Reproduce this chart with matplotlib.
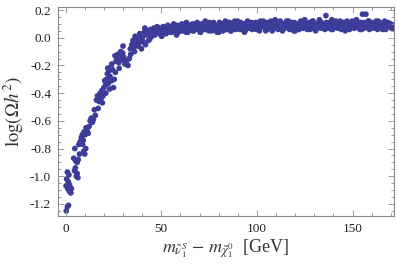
import matplotlib
matplotlib.use('Agg')
import matplotlib.pyplot as plt
from matplotlib.ticker import MultipleLocator

# steep part of the scan (mass splitting in GeV, log of relic density)
rise_x = [0.3, 0.9, 1.5, 0.2, 0.5, 0.9, 1.1, 1.4, 1.7, 2.0,
          2.4, 2.7, 1.9, 3.0, 4.6, 5.1, 5.6, 6.0, 6.4, 4.2,
          4.8, 5.3, 6.0, 6.6, 7.2, 6.9, 7.6, 8.2, 8.7, 9.2,
          9.6, 10.2, 10.7, 11.2, 11.8, 12.3, 9.4, 10.0, 10.5, 8.9,
          12.8, 13.4, 14.0, 14.5, 15.0, 15.5, 16.1, 16.6, 17.0, 17.5,
          18.0, 18.5, 19.0, 19.5, 20.0, 20.4, 20.9, 21.4, 21.8, 22.3,
          22.7, 23.2, 23.6, 24.1, 24.5, 25.0, 25.4, 25.8, 26.3, 26.8,
          27.3, 27.8, 28.3, 28.8, 29.3, 29.8, 30.4, 31.0, 31.8, 32.6,
          33.3, 34.0, 21.0, 23.0, 24.0, 19.2, 22.0, 26.0, 28.0, 30.0,
          34.6, 35.2, 35.8, 36.3, 36.9, 37.4, 38.0, 38.5, 39.0, 39.6,
          40.1, 40.6, 41.1, 41.7, 42.2, 42.8, 43.3, 43.9, 44.4, 45.0,
          45.6, 46.1, 46.7, 47.3, 47.8, 36.0, 38.8, 41.4, 44.0, 33.8]
rise_y = [-1.25, -1.22, -1.21, -1.07, -1.02, -0.97, -1.09, -1.04, -0.99, -1.11,
          -1.08, -1.12, -1.06, -1.09, -0.96, -0.94, -1.00, -0.98, -1.01, -0.87,
          -0.80, -0.89, -0.90, -0.88, -0.84, -0.77, -0.75, -0.72, -0.70, -0.74,
          -0.68, -0.70, -0.65, -0.67, -0.69, -0.64, -0.82, -0.84, -0.80, -0.77,
          -0.60, -0.58, -0.61, -0.59, -0.52, -0.56, -0.45, -0.42, -0.51, -0.46,
          -0.40, -0.44, -0.38, -0.42, -0.36, -0.31, -0.34, -0.30, -0.26, -0.33,
          -0.24, -0.28, -0.21, -0.19, -0.23, -0.36, -0.30, -0.13, -0.17, -0.15,
          -0.12, -0.18, -0.14, -0.10, -0.16, -0.11, -0.14, -0.19, -0.17, -0.20,
          -0.15, -0.12, -0.40, -0.37, -0.31, -0.47, -0.22, -0.25, -0.22, -0.06,
          -0.05, -0.02, -0.07, 0.01, -0.04, -0.01, -0.06, 0.02, -0.03, -0.08,
          0.00, -0.03, 0.04, -0.05, 0.02, 0.05, -0.02, 0.03, 0.06, 0.01,
          0.04, 0.07, 0.02, 0.05, 0.08, -0.10, 0.03, 0.07, -0.01, -0.08]

# flat part of the scan
flat_x = [48.5, 49.2, 49.8, 50.5, 51.0, 51.7, 52.3, 52.9, 53.4, 54.1,
          54.8, 55.2, 55.9, 56.5, 57.0, 57.8, 58.3, 58.9, 59.6, 60.1,
          60.8, 61.4, 62.0, 62.7, 63.2, 63.9, 64.5, 65.0, 65.8, 66.3,
          66.9, 67.5, 68.2, 68.8, 69.3, 70.0, 70.6, 71.1, 71.9, 72.4,
          73.0, 73.7, 74.2, 74.9, 75.5, 76.0, 76.8, 77.3, 77.9, 78.6,
          79.1, 79.8, 80.4, 80.9, 81.6, 82.2, 82.8, 83.5, 84.0, 84.7,
          85.3, 85.8, 86.6, 87.1, 87.7, 88.4, 88.9, 89.6, 90.2, 90.7,
          91.5, 92.0, 92.6, 93.3, 93.8, 94.5, 95.1, 95.6, 96.4, 96.9,
          97.5, 98.2, 98.7, 99.4, 100.0, 100.5, 101.3, 101.8, 102.4, 103.1,
          103.6, 104.3, 104.9, 105.4, 106.2, 106.7, 107.3, 108.0, 108.5, 109.2,
          109.8, 110.3, 111.1, 111.6, 112.2, 112.9, 113.4, 114.1, 114.7, 115.2,
          116.0, 116.5, 117.1, 117.8, 118.3, 119.0, 119.6, 120.1, 120.9, 121.4,
          122.0, 122.7, 123.2, 123.9, 124.5, 125.0, 125.8, 126.3, 126.9, 127.6,
          128.1, 128.8, 129.4, 129.9, 130.7, 131.2, 131.8, 132.5, 133.0, 133.7,
          134.3, 134.8, 135.6, 136.1, 136.7, 137.4, 137.9, 138.6, 139.2, 139.7,
          140.5, 141.0, 141.6, 142.3, 142.8, 143.5, 144.1, 144.6, 145.4, 145.9,
          146.5, 147.2, 147.7, 148.4, 149.0, 149.5, 150.3, 150.8, 151.4, 152.1,
          152.6, 153.3, 153.9, 154.4, 155.2, 155.7, 156.3, 157.0, 157.5, 158.2,
          158.8, 159.3, 160.1, 160.6, 161.2, 161.9, 162.4, 163.1, 163.7, 164.2,
          165.0, 165.5, 166.1, 166.8, 167.3, 168.0, 168.6, 169.1, 169.9, 170.4,
          171.0, 171.6]
flat_y = [0.04, 0.07, 0.02, 0.06, 0.08, 0.03, 0.07, 0.05, 0.09, 0.06,
          0.04, 0.08, 0.06, 0.10, 0.05, 0.07, 0.09, 0.04, 0.08, 0.06,
          0.10, 0.05, 0.08, 0.07, 0.11, 0.04, 0.09, 0.06, 0.08, 0.10,
          0.05, 0.07, 0.09, 0.11, 0.06, 0.08, 0.04, 0.10, 0.07, 0.09,
          0.12, 0.06, 0.08, 0.05, 0.10, 0.07, 0.09, 0.11, 0.06, 0.08,
          0.04, 0.09, 0.11, 0.07, 0.10, 0.05, 0.08, 0.12, 0.06, 0.09,
          0.07, 0.11, 0.05, 0.09, 0.08, 0.12, 0.06, 0.10, 0.07, 0.09,
          0.11, 0.06, 0.08, 0.10, 0.05, 0.09, 0.12, 0.07, 0.10, 0.08,
          0.06, 0.10, 0.08, 0.11, 0.07, 0.09, 0.05, 0.12, 0.08, 0.10,
          0.09, 0.07, 0.11, 0.06, 0.10, 0.08, 0.12, 0.05, 0.09, 0.11,
          0.07, 0.10, 0.06, 0.09, 0.12, 0.08, 0.05, 0.10, 0.07, 0.11,
          0.08, 0.12, 0.06, 0.10, 0.09, 0.07, 0.11, 0.05, 0.08, 0.10,
          0.06, 0.09, 0.11, 0.07, 0.10, 0.13, 0.08, 0.06, 0.09, 0.11,
          0.10, 0.07, 0.12, 0.08, 0.05, 0.10, 0.09, 0.08, 0.07, 0.11,
          0.08, 0.10, 0.06, 0.16, 0.09, 0.07, 0.11, 0.08, 0.13, 0.06,
          0.10, 0.08, 0.11, 0.07, 0.09, 0.12, 0.06, 0.10, 0.08, 0.11,
          0.07, 0.12, 0.09, 0.06, 0.10, 0.08, 0.11, 0.07, 0.09, 0.13,
          0.08, 0.10, 0.06, 0.11, 0.17, 0.09, 0.07, 0.17, 0.08, 0.12,
          0.06, 0.09, 0.11, 0.07, 0.10, 0.08, 0.12, 0.06, 0.09, 0.11,
          0.07, 0.10, 0.08, 0.12, 0.06, 0.09, 0.11, 0.08, 0.10, 0.07,
          0.09, 0.07]

flat2_x = [50.2, 51.4, 52.6, 53.8, 55.5, 56.8, 58.0, 59.2, 60.5, 61.8,
           63.0, 64.2, 65.4, 66.6, 68.0, 69.0, 70.3, 71.5, 72.8, 74.0,
           75.2, 76.4, 77.6, 78.9, 80.1, 81.3, 82.5, 83.8, 85.0, 86.2,
           87.4, 88.6, 89.9, 91.1, 92.3, 93.5, 94.8, 96.0, 97.2, 98.4,
           99.7, 100.9, 102.1, 103.3, 104.6, 105.8, 107.0, 108.2, 109.5, 110.7,
           111.9, 113.1, 114.4, 115.6, 116.8, 118.0, 119.3, 120.5, 121.7, 122.9,
           124.2, 125.4, 126.6, 127.8, 129.1, 130.3, 131.5, 132.7, 134.0, 135.2,
           136.4, 137.6, 138.9, 140.1, 141.3, 142.5, 143.8, 145.0, 146.2, 147.4,
           148.7, 149.9, 151.1, 152.3, 153.6, 154.8, 156.0, 157.2, 158.5, 159.7,
           160.9, 162.1, 163.4, 164.6, 165.8, 167.0, 168.3, 169.5, 170.7, 171.9]
flat2_y = [0.01, 0.05, 0.03, 0.07, 0.04, 0.06, 0.02, 0.08, 0.05, 0.07,
           0.04, 0.09, 0.06, 0.05, 0.10, 0.07, 0.04, 0.09, 0.06, 0.08,
           0.11, 0.05, 0.09, 0.07, 0.04, 0.10, 0.08, 0.06, 0.11, 0.05,
           0.09, 0.07, 0.12, 0.06, 0.08, 0.04, 0.10, 0.07, 0.11, 0.09,
           0.06, 0.10, 0.08, 0.12, 0.05, 0.09, 0.11, 0.07, 0.13, 0.08,
           0.10, 0.06, 0.09, 0.12, 0.07, 0.11, 0.05, 0.10, 0.08, 0.12,
           0.07, 0.11, 0.09, 0.06, 0.12, 0.08, 0.10, 0.13, 0.07, 0.09,
           0.11, 0.08, 0.06, 0.10, 0.12, 0.07, 0.09, 0.11, 0.05, 0.10,
           0.08, 0.12, 0.07, 0.10, 0.09, 0.06, 0.11, 0.08, 0.12, 0.07,
           0.10, 0.07, 0.12, 0.09, 0.06, 0.11, 0.08, 0.10, 0.07, 0.09]

x_ticks = [0, 50, 100, 150]
y_ticks = [0.2, 0.0, -0.2, -0.4, -0.6, -0.8, -1.0, -1.2]

plt.rcParams['font.family'] = ['Liberation Serif', 'DejaVu Serif']
plt.rcParams['mathtext.fontset'] = 'stix'

fig = plt.figure(figsize=(3.99, 2.64), dpi=100)
ax = fig.add_axes([0.1454, 0.1818, 0.8421, 0.7917])

dot_color = '#3d3d99'
for xs, ys in [(rise_x, rise_y), (flat_x, flat_y), (flat2_x, flat2_y)]:
    ax.scatter(xs, ys, s=17, color=dot_color, edgecolors='none')

ax.set_xlim(-4, 171.7)
ax.set_ylim(-1.287, 0.222)
ax.set_xticks(x_ticks)
ax.set_yticks(y_ticks)
ax.set_yticklabels(['%.1f' % v if v != 0 else '0.0' for v in y_ticks])
ax.xaxis.set_minor_locator(MultipleLocator(10))
ax.yaxis.set_minor_locator(MultipleLocator(0.05))

frame_color = '#8a8a8a'
for sp in ax.spines.values():
    sp.set_color(frame_color)
    sp.set_linewidth(0.8)
ax.tick_params(which='both', direction='in', top=True, right=True,
               color=frame_color, width=0.6, labelsize=9.5, labelcolor='#222222')
ax.tick_params(which='major', length=4, pad=5)
ax.tick_params(which='minor', length=2)

ax.set_xlabel(r'$m_{\tilde{\nu}_1^S}\,-\,m_{\tilde{\chi}_1^0}$  [GeV]', fontsize=13,
              color='#333333', labelpad=2)
ax.set_ylabel(r'$\log(\Omega h^2)$', fontsize=13.5, color='#333333', labelpad=3)

fig.savefig('out.png', dpi=100)
